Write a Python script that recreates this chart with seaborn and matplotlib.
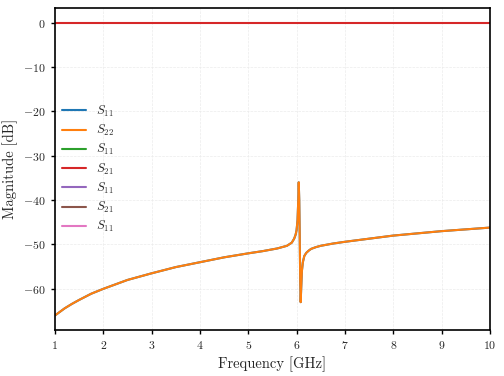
import pandas as pd
import seaborn as sns
import matplotlib.pyplot as plt

# frequency points [GHz] and magnitude [dB]
freq = [1.0, 1.1, 1.2, 1.35, 1.5, 1.75, 2.0, 2.5, 3.0, 3.5, 4.0, 4.5, 5.0, 5.3,
        5.6, 5.8, 5.9, 5.95, 5.98, 6.0, 6.02, 6.035, 6.045, 6.055, 6.065, 6.075,
        6.085, 6.095, 6.11, 6.13, 6.16, 6.2, 6.25, 6.3, 6.4, 6.5, 6.75, 7.0, 7.5,
        8.0, 8.5, 9.0, 9.5, 10.0]
s11_db = [-66.0, -65.2, -64.4, -63.4, -62.5, -61.1, -60.0, -58.0, -56.5, -55.1,
          -54.0, -52.9, -52.0, -51.5, -50.9, -50.3, -49.6, -48.7, -47.8, -46.8,
          -44.5, -40.0, -36.0, -40.0, -48.0, -58.0, -63.0, -60.0, -56.0, -54.0,
          -52.6, -51.9, -51.4, -51.0, -50.6, -50.3, -49.8, -49.4, -48.7, -48.0,
          -47.5, -47.0, -46.6, -46.2]
s21_db = [0.0] * len(freq)

labels = ['$S_{11}$', '$S_{22}$', '$S_{11}$', '$S_{21}$', '$S_{11}$', '$S_{21}$', '$S_{11}$']

sns.set_style('ticks', {'axes.grid': True, 'grid.linestyle': '--', 'grid.color': '#ebebeb'})
plt.rcParams['font.family'] = 'serif'
plt.rcParams['font.serif'] = ['cmr10']
plt.rcParams['mathtext.fontset'] = 'cm'
plt.rcParams['axes.formatter.use_mathtext'] = True

pal = sns.color_palette('tab10')
df = pd.DataFrame({'f': freq, 's11': s11_db, 's21': s21_db})

fig, ax = plt.subplots(figsize=(5.04, 3.76), dpi=100)
series = [df['s11'], df['s11'], None, df['s21'], None, None, None]
for i, (lab, y) in enumerate(zip(labels, series)):
    if y is None:
        ax.plot([], [], color=pal[i], lw=1.5, label=lab)
    else:
        sns.lineplot(x=df['f'], y=y, ax=ax, color=pal[i], lw=1.5, label=lab)

ax.set_xlim(1, 10)
ax.set_xticks(range(1, 11))
ax.set_yticks([0, -10, -20, -30, -40, -50, -60])
ax.set_xlabel('Frequency [GHz]', fontsize=10.5)
ax.set_ylabel('Magnitude [dB]', fontsize=10.5)
ax.tick_params(labelsize=8.5, width=1, length=3, color='black')
ax.grid(True, lw=0.5)
for s in ax.spines.values():
    s.set_color('black')
    s.set_linewidth(1.2)
ax.legend(loc='center left', frameon=False, fontsize=9, labelspacing=0.33,
          borderaxespad=0.2, handlelength=1.9)
fig.subplots_adjust(left=0.109, right=0.972, top=0.979, bottom=0.122)
plt.savefig('out.png')
